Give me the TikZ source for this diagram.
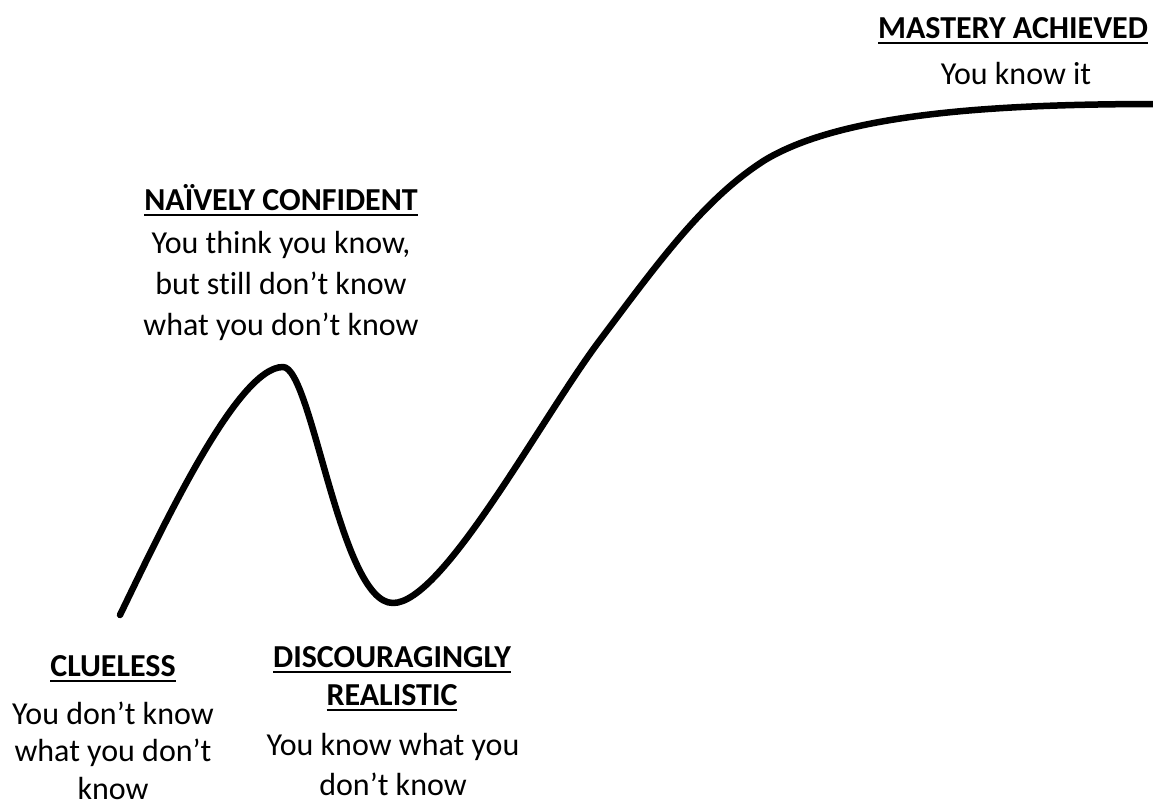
\documentclass[tikz,border=0pt]{standalone}
\usepackage{fontspec}
\setmainfont[Ligatures={TeX,NoCommon}]{Carlito}
\newcommand{\headline}[1]{\leavevmode\setbox0=\hbox{#1}\rlap{\vrule height -3.6pt depth 5.6pt width \wd0}\box0}
\tikzset{
  head/.style={font=\fontsize{32}{38}\selectfont\bfseries, align=center, inner sep=0pt, anchor=base},
  body/.style={font=\fontsize{32}{40}\selectfont, align=center, inner sep=0pt, anchor=base},
  curve/.style={line width=6.5pt, line cap=round, line join=round}
}
\begin{document}
\begin{tikzpicture}[x=1pt, y=-1pt]
  \useasboundingbox (0,0) rectangle (1153,804);
  % the learning curve
  \draw[curve] (120,615) .. controls (165,522) and (238,367) .. (283,367)
    .. controls (312,367) and (340,603) .. (393,603)
    .. controls (443,603) and (540,420) .. (600,340)
    .. controls (660,260) and (705,198) .. (765,160)
    .. controls (845,112) and (1003,104) .. (1160,104);
  % labels (anchored at the baseline of the last line)
  \node[head] (naive) at (281,210) {\headline{NAÏVELY CONFIDENT}};
  \node[body, font=\fontsize{32}{41}\selectfont] (naivetxt) at (281,335) {You think you know,\\but still don't know\\what you don't know};
  \node[head] (mastery) at (1013,38) {\headline{MASTERY ACHIEVED}};
  \node[body] (masterytxt) at (1016,84) {You know it};
  \node[head] (clueless) at (113,676) {\headline{CLUELESS}};
  \node[body, font=\fontsize{32}{37.5}\selectfont] (cluelesstxt) at (113,799) {You don't know\\what you don't\\know};
  \node[head] (realistic) at (392,705) {\headline{DISCOURAGINGLY}\\\headline{REALISTIC}};
  \node[body] (realistictxt) at (393,795) {You know what you\\don't know};
\end{tikzpicture}
\end{document}
